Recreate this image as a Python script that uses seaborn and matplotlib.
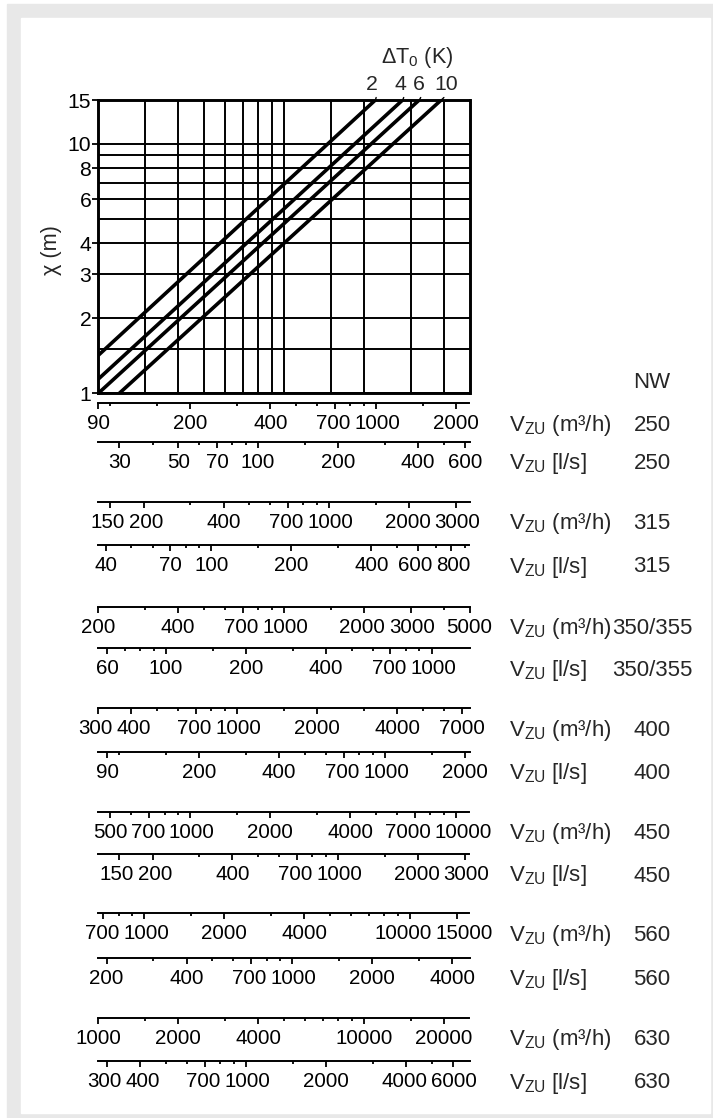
import numpy as np
import pandas as pd
import matplotlib
matplotlib.use("Agg")
import matplotlib.pyplot as plt
import seaborn as sns
from matplotlib import font_manager as fm
from matplotlib.patches import Rectangle
from matplotlib.transforms import ScaledTranslation
from matplotlib.ticker import FixedLocator, FixedFormatter, NullFormatter, NullLocator

# ---------------- data ----------------
dT_labels = ["2", "4", "6", "10"]
line_x_start = [90, 90, 90, 108]
line_y_start = [1.42, 1.14, 1.0, 1.0]
line_x_end = [995, 1260, 1455, 1760]
line_y_end = [15, 15, 15, 15]

grid_x = [135, 180, 225, 270, 315, 360, 405, 450, 675, 900, 1350, 1800]
grid_y = [1.5, 5, 7, 9]
y_ticks = [1, 2, 3, 4, 6, 8, 10, 15]
y_range = [1, 15]

nw_labels = ["250", "250", "315", "315", "350/355", "350/355", "400", "400",
             "450", "450", "560", "560", "630", "630"]
unit_labels = ["V$_\\mathrm{ZU}$ (m³/h)", "V$_\\mathrm{ZU}$ [l/s]"] * 7
scale_lo = [90, 25, 135, 37.5, 200, 55.6, 300, 83.3, 450, 125, 670, 186, 1000, 278]
scale_span = 25
scale_major = [
    [90, 200, 400, 700, 1000, 2000],
    [30, 50, 70, 100, 200, 400, 600],
    [150, 200, 400, 700, 1000, 2000, 3000],
    [40, 70, 100, 200, 400, 600, 800],
    [200, 400, 700, 1000, 2000, 3000, 5000],
    [60, 100, 200, 400, 700, 1000],
    [300, 400, 700, 1000, 2000, 4000, 7000],
    [90, 200, 400, 700, 1000, 2000],
    [500, 700, 1000, 2000, 4000, 7000, 10000],
    [150, 200, 400, 700, 1000, 2000, 3000],
    [700, 1000, 2000, 4000, 10000, 15000],
    [200, 400, 700, 1000, 2000, 4000],
    [1000, 2000, 4000, 10000, 20000],
    [300, 400, 700, 1000, 2000, 4000, 6000],
]
minor_mult = [1, 1.5, 2, 3, 4, 5, 6, 7, 8, 9]

# ---------------- style ----------------
sns.set_theme(style="white")


def pick(cands):
    for c in cands:
        try:
            fm.findfont(fm.FontProperties(family=c), fallback_to_default=False)
            return c
        except Exception:
            pass
    return "DejaVu Sans"


FAM = pick(["Liberation Sans", "Arial", "Helvetica"])
plt.rcParams["font.family"] = [FAM, "DejaVu Sans"]
plt.rcParams["mathtext.fontset"] = "custom"
plt.rcParams["mathtext.rm"] = FAM
plt.rcParams["mathtext.it"] = FAM + ":italic"
plt.rcParams["mathtext.bf"] = FAM + ":bold"
plt.rcParams["xtick.bottom"] = True
plt.rcParams["ytick.left"] = True

FS_TICK = 14.8
FS_UNIT = 16
FS_NW = 16

W, H = 713, 1118
fig = plt.figure(figsize=(W / 100, H / 100), dpi=100)
fig.patch.set_facecolor("white")


def fx(px):
    return px / W


def fy(py):
    return 1 - py / H


# background frame
fig.patches.append(Rectangle((fx(7), fy(H)), fx(W) - fx(7), fy(4) - fy(H),
                             transform=fig.transFigure, color="#e8e8e8", zorder=-10))
fig.patches.append(Rectangle((fx(21), fy(1113)), fx(710) - fx(21), fy(18) - fy(1113),
                             transform=fig.transFigure, color="white", zorder=-9))

PL, PR = 98.3, 469.5
PT, PB = 100, 393.3
ax = fig.add_axes([fx(PL), fy(PB), fx(PR) - fx(PL), fy(PT) - fy(PB)])
ax.set_facecolor("none")
ax.set_xscale("log")
ax.set_yscale("log")

rows = []
for lab, xs, ys, xe, ye in zip(dT_labels, line_x_start, line_y_start, line_x_end, line_y_end):
    rows.append({"V": xs, "chi": ys, "dT": lab})
    rows.append({"V": xe, "chi": ye, "dT": lab})
df = pd.DataFrame(rows)
sns.lineplot(data=df, x="V", y="chi", hue="dT", palette=["black"] * 4, estimator=None,
             sort=False, legend=False, lw=2.6, ax=ax, solid_capstyle="butt")

ax.set_xlim(scale_lo[0], scale_lo[0] * scale_span)
ax.set_ylim(*y_range)
ax.xaxis.set_major_locator(FixedLocator(grid_x))
ax.xaxis.set_major_formatter(NullFormatter())
ax.xaxis.set_minor_locator(NullLocator())
ax.yaxis.set_major_locator(FixedLocator(y_ticks))
ax.yaxis.set_major_formatter(FixedFormatter([str(v) for v in y_ticks]))
ax.yaxis.set_minor_locator(FixedLocator(grid_y))
ax.yaxis.set_minor_formatter(NullFormatter())
ax.grid(True, which="major", axis="x", color="black", lw=1.4)
ax.grid(True, which="both", axis="y", color="black", lw=1.4)
ax.set_axisbelow(True)
ax.tick_params(axis="x", which="both", length=0)
ax.tick_params(axis="y", which="major", left=True, length=4, width=1.3, direction="out",
               pad=1, labelsize=FS_TICK + 0.4, colors="black")
ax.tick_params(axis="y", which="minor", length=0)
for s in ax.spines.values():
    s.set_linewidth(2.1)
    s.set_color("black")
ax.set_xlabel("")
ax.set_ylabel("")

# dT labels with small leader hooks
label_dx = [-4, -2, 0, 5]
for lab, xe, dx in zip(dT_labels, line_x_end, label_dx):
    ax.annotate(lab, xy=(xe, line_y_end[0]), xycoords="data",
                xytext=(dx * 0.72, 11), textcoords="offset points",
                ha="center", va="center", fontsize=FS_TICK + 0.5, annotation_clip=False,
                arrowprops=dict(arrowstyle="-", lw=1.0, color="black", shrinkA=0, shrinkB=0,
                                connectionstyle="arc3,rad=-0.35"))
fig.text(fx(417), fy(57.5), "ΔT$_\\mathrm{0}$ (K)", ha="center", va="center",
         fontsize=FS_TICK + 0.8)
fig.text(fx(52), fy(250), "χ (m)", rotation=90, ha="center", va="center",
         fontsize=FS_TICK + 0.8)

# secondary scales
row_y = [403.3, 441.7, 501.7, 545, 606.7, 648.3, 708.3, 751.7, 811.7, 854,
         913.3, 957.7, 1017.7, 1061]
sec_axes = []
for i, ly in enumerate(row_y):
    lo = scale_lo[i]
    hi = lo * scale_span
    a = fig.add_axes([fx(PL), fy(ly), fx(PR) - fx(PL), 0.0001])
    a.set_facecolor("none")
    a.set_xscale("log")
    a.set_xlim(lo, hi)
    a.set_yticks([])
    for k in ["top", "left", "right"]:
        a.spines[k].set_visible(False)
    a.spines["bottom"].set_linewidth(1.4)
    a.spines["bottom"].set_color("black")
    majors = scale_major[i]
    minors = []
    for e in range(0, 6):
        for m in minor_mult:
            v = m * 10 ** e
            if lo * 0.999 <= v <= hi * 1.001 and not any(abs(v - M) < 1e-6 for M in majors):
                minors.append(v)
    a.xaxis.set_major_locator(FixedLocator(majors))
    a.xaxis.set_major_formatter(FixedFormatter([str(v) for v in majors]))
    a.xaxis.set_minor_locator(FixedLocator(minors))
    a.xaxis.set_minor_formatter(NullFormatter())
    a.tick_params(axis="x", which="major", bottom=True, length=4, width=1.3, direction="out",
                  pad=4.0, labelsize=FS_TICK, colors="black")
    a.tick_params(axis="x", which="minor", bottom=True, length=2.3, width=1.3,
                  direction="out", colors="black")
    sec_axes.append((a, len(majors)))
    fig.text(fx(509), fy(ly + 22), unit_labels[i], ha="left", va="center", fontsize=FS_UNIT)
    fig.text(fx(652), fy(ly + 22), nw_labels[i], ha="center", va="center", fontsize=FS_NW)

fig.text(fx(652), fy(382), "NW", ha="center", va="center", fontsize=FS_NW)

# push apart tick labels that would touch (as the printed chart does)
fig.canvas.draw()
rend = fig.canvas.get_renderer()
MIN_GAP = 4.0
for a, n in sec_axes:
    labs = [t.label1 for t in a.xaxis.get_major_ticks()[:n]]
    ext = [l.get_window_extent(rend) for l in labs]
    shifts = [0.0] * n
    for j in range(n - 1):
        gap = (ext[j + 1].x0 + shifts[j + 1]) - (ext[j].x1 + shifts[j])
        need = MIN_GAP - gap
        if need > 0:
            shifts[j] -= need / 2
            shifts[j + 1] += need / 2
    for l, s in zip(labs, shifts):
        if s:
            l.set_transform(l.get_transform() + ScaledTranslation(s / fig.dpi, 0,
                                                                   fig.dpi_scale_trans))

fig.savefig("out.png", dpi=100)
